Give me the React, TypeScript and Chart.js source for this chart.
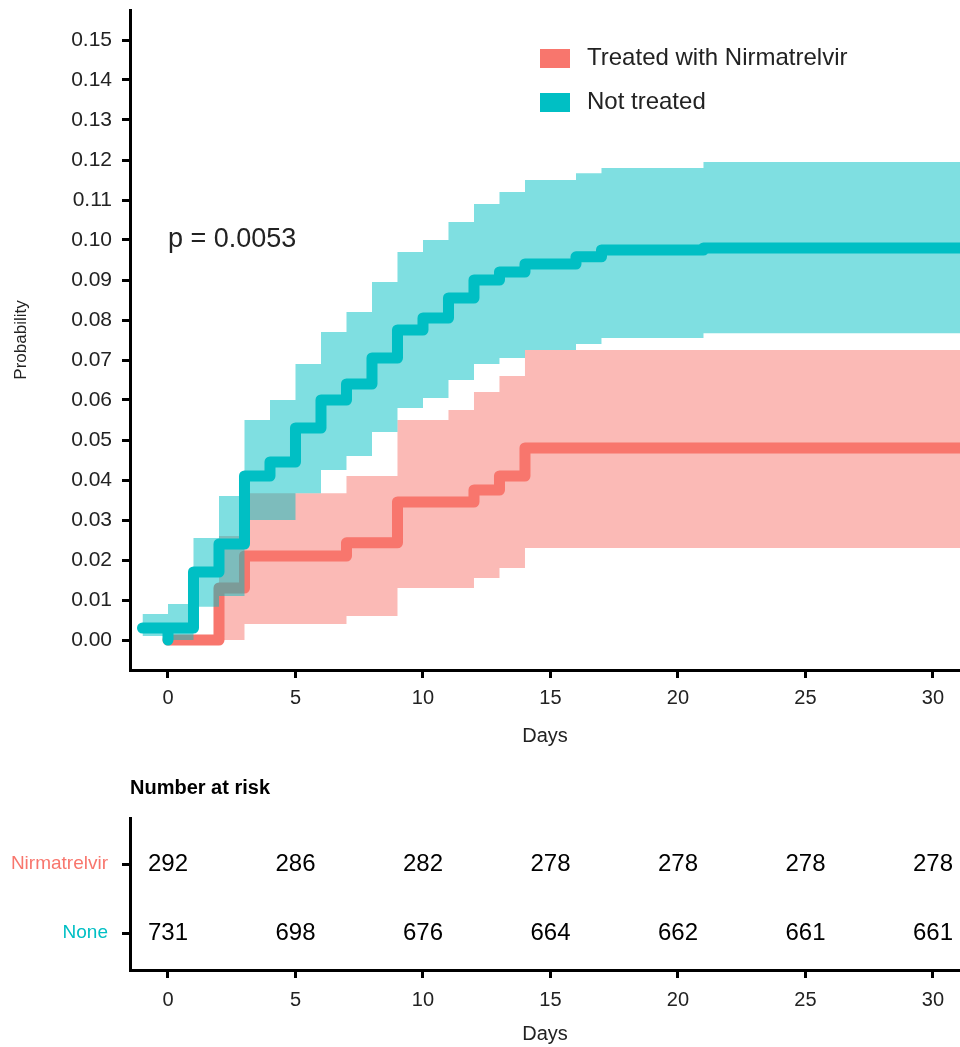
import React, { useEffect, useRef } from 'react';
import { Chart, registerables } from 'chart.js';

Chart.register(...registerables);

const FONT = "'Liberation Sans', Arial, sans-serif";
const NARROW = "'Liberation Sans Narrow', 'Liberation Sans', Arial, sans-serif";
const TEXT = '#222222';
const RED = '#F8766D';
const TEAL = '#00BFC4';
const RED_FILL = 'rgba(248,118,109,0.5)';
const TEAL_FILL = 'rgba(0,191,196,0.5)';

// axis ranges
const X_MIN = -1.49;
const X_MAX = 31.06;
const Y_MIN = -0.0075;
const Y_MAX = 0.1575;

const xTickValues = [0, 5, 10, 15, 20, 25, 30];
const yTickValues = [0.0, 0.01, 0.02, 0.03, 0.04, 0.05, 0.06, 0.07, 0.08, 0.09, 0.1, 0.11, 0.12, 0.13, 0.14, 0.15];

// Not treated: Kaplan-Meier cumulative probability (value holds from time[i] to time[i+1])
const notTreatedTimes = [-1, 0, 0, 1, 2, 3, 4, 5, 6, 7, 8, 9, 10, 11, 12, 13, 14, 16, 17, 21, 31.06];
const notTreatedProb = [0.003, 0, 0.003, 0.017, 0.024, 0.041, 0.0445, 0.053, 0.06, 0.064, 0.0705, 0.0775, 0.0805, 0.0855, 0.09, 0.092, 0.094, 0.0958, 0.0975, 0.098, 0.098];

// Not treated: confidence band
const notTreatedBandTimes = [-1, 0, 1, 2, 3, 4, 5, 6, 7, 8, 9, 10, 11, 12, 13, 14, 16, 17, 21, 31.06];
const notTreatedUpper = [0.0065, 0.009, 0.0255, 0.036, 0.055, 0.06, 0.069, 0.077, 0.082, 0.0895, 0.097, 0.1, 0.1045, 0.109, 0.112, 0.115, 0.1167, 0.118, 0.1195, 0.1195];
const notTreatedLower = [0.001, 0.0, 0.0083, 0.011, 0.03, 0.03, 0.0367, 0.0425, 0.046, 0.052, 0.058, 0.0605, 0.065, 0.069, 0.0705, 0.0725, 0.074, 0.0755, 0.0767, 0.0767];

// Treated with Nirmatrelvir: Kaplan-Meier cumulative probability
const treatedTimes = [0, 2, 3, 7, 9, 12, 13, 14, 31.06];
const treatedProb = [0, 0.013, 0.021, 0.0243, 0.0345, 0.0375, 0.041, 0.048, 0.048];

// Treated: confidence band
const treatedBandTimes = [0, 2, 3, 7, 9, 11, 12, 13, 14, 31.06];
const treatedUpper = [0, 0.026, 0.0367, 0.041, 0.055, 0.0575, 0.062, 0.066, 0.0725, 0.0725];
const treatedLower = [0, 0, 0.004, 0.006, 0.013, 0.013, 0.0155, 0.018, 0.023, 0.023];

const pValueText = 'p = 0.0053';
const pValueAt = [0, 0.1];

const legendLabels = ['Treated with Nirmatrelvir', 'Not treated'];

// Number at risk table
const riskDays = [0, 5, 10, 15, 20, 25, 30];
const riskGroups = ['Nirmatrelvir', 'None'];
const riskRows = [1, 0];
const nirmatrelvirAtRisk = [292, 286, 282, 278, 278, 278, 278];
const noneAtRisk = [731, 698, 676, 664, 662, 661, 661];

const pts = (times: number[], vals: number[]) => times.map((t, i) => ({ x: t, y: vals[i] }));

const bandStyle = {
  borderWidth: 0,
  borderColor: 'rgba(0,0,0,0)',
  pointRadius: 0,
  stepped: true,
};

const pValuePlugin = {
  id: 'pValue',
  afterDatasetsDraw(chart: any) {
    const { ctx, scales } = chart;
    ctx.save();
    ctx.font = `27px ${FONT}`;
    ctx.fillStyle = TEXT;
    ctx.textAlign = 'left';
    ctx.textBaseline = 'middle';
    ctx.fillText(pValueText, scales.x.getPixelForValue(pValueAt[0]), scales.y.getPixelForValue(pValueAt[1]));
    ctx.restore();
  },
};

const customLegend = {
  id: 'customLegend',
  afterDraw(chart: any) {
    const { ctx } = chart;
    const items = legendLabels.map((lab) => chart.data.datasets.find((d: any) => d.label === lab));
    ctx.save();
    items.forEach((ds: any, i: number) => {
      const top = 49 + i * 44;
      ctx.fillStyle = ds.borderColor;
      ctx.fillRect(540, top, 30, 19);
      ctx.font = `24px ${FONT}`;
      ctx.fillStyle = TEXT;
      ctx.textAlign = 'left';
      ctx.textBaseline = 'middle';
      ctx.fillText(ds.label, 587, top + 9.5);
    });
    ctx.restore();
  },
};

const riskPlugin = {
  id: 'riskText',
  afterDatasetsDraw(chart: any) {
    const { ctx } = chart;
    ctx.save();
    ctx.font = `bold 20px ${NARROW}`;
    ctx.fillStyle = '#000';
    ctx.textAlign = 'left';
    ctx.textBaseline = 'middle';
    ctx.fillText('Number at risk', 130, 28);
    ctx.font = `24px ${NARROW}`;
    ctx.textAlign = 'center';
    chart.data.datasets.forEach((ds: any, i: number) => {
      const meta = chart.getDatasetMeta(i);
      meta.data.forEach((el: any, j: number) => {
        ctx.fillText(String(ds.counts[j]), el.x, el.y);
      });
    });
    ctx.restore();
  },
};

const axisCommon = {
  border: { display: true, color: '#000', width: 3 },
  grid: { display: true, drawOnChartArea: false, drawTicks: true, tickLength: 8, tickWidth: 3, tickColor: '#000' },
};

export default function App() {
  const mainRef = useRef<HTMLCanvasElement>(null);
  const riskRef = useRef<HTMLCanvasElement>(null);

  useEffect(() => {
    const main = new Chart(mainRef.current as HTMLCanvasElement, {
      type: 'line',
      data: {
        datasets: [
          {
            label: 'Not treated',
            data: pts(notTreatedTimes, notTreatedProb),
            borderColor: TEAL,
            backgroundColor: TEAL,
            borderWidth: 11,
            borderCapStyle: 'round',
            borderJoinStyle: 'round',
            pointRadius: 0,
            stepped: true,
            fill: false,
          },
          { ...bandStyle, data: pts(notTreatedBandTimes, notTreatedUpper), backgroundColor: TEAL_FILL, fill: { target: 2 } },
          { ...bandStyle, data: pts(notTreatedBandTimes, notTreatedLower), fill: false },
          {
            label: 'Treated with Nirmatrelvir',
            data: pts(treatedTimes, treatedProb),
            borderColor: RED,
            backgroundColor: RED,
            borderWidth: 11,
            borderCapStyle: 'round',
            borderJoinStyle: 'round',
            pointRadius: 0,
            stepped: true,
            fill: false,
          },
          { ...bandStyle, data: pts(treatedBandTimes, treatedUpper), backgroundColor: RED_FILL, fill: { target: 5 } },
          { ...bandStyle, data: pts(treatedBandTimes, treatedLower), fill: false },
        ] as any,
      },
      options: {
        responsive: false,
        animation: false,
        devicePixelRatio: 1,
        layout: { padding: { left: 0, right: 0, top: 10, bottom: 0 } },
        plugins: { legend: { display: false }, tooltip: { enabled: false } },
        scales: {
          x: {
            type: 'linear',
            min: X_MIN,
            max: X_MAX,
            ...axisCommon,
            afterBuildTicks: (s: any) => { s.ticks = xTickValues.map((v) => ({ value: v })); },
            afterFit: (s: any) => { s.height = 90; s.paddingLeft = 0; s.paddingRight = 0; },
            ticks: { font: { family: NARROW, size: 20 }, color: TEXT, padding: 8, maxRotation: 0, callback: (v: any) => String(v) },
            title: { display: true, text: 'Days', font: { family: NARROW, size: 20 }, color: TEXT, padding: { top: 0, bottom: 12 } },
          },
          y: {
            type: 'linear',
            min: Y_MIN,
            max: Y_MAX,
            ...axisCommon,
            afterBuildTicks: (s: any) => { s.ticks = yTickValues.map((v) => ({ value: v })); },
            afterFit: (s: any) => { s.width = 130; s.paddingTop = 0; s.paddingBottom = 0; },
            ticks: { font: { family: FONT, size: 21 }, color: TEXT, padding: 10, callback: (v: any) => Number(v).toFixed(2) },
            title: { display: true, text: 'Probability', font: { family: NARROW, size: 17 }, color: TEXT, padding: { top: 11, bottom: 0 } },
          },
        },
      } as any,
      plugins: [pValuePlugin, customLegend],
    });

    const risk = new Chart(riskRef.current as HTMLCanvasElement, {
      type: 'scatter',
      data: {
        datasets: [
          { label: riskGroups[0], data: riskDays.map((d) => ({ x: d, y: riskRows[0] })), counts: nirmatrelvirAtRisk, pointRadius: 0 },
          { label: riskGroups[1], data: riskDays.map((d) => ({ x: d, y: riskRows[1] })), counts: noneAtRisk, pointRadius: 0 },
        ] as any,
      },
      options: {
        responsive: false,
        animation: false,
        devicePixelRatio: 1,
        layout: { padding: { left: 0, right: 0, top: 58, bottom: 0 } },
        plugins: { legend: { display: false }, tooltip: { enabled: false } },
        scales: {
          x: {
            type: 'linear',
            min: X_MIN,
            max: X_MAX,
            ...axisCommon,
            afterBuildTicks: (s: any) => { s.ticks = xTickValues.map((v) => ({ value: v })); },
            afterFit: (s: any) => { s.height = 77; s.paddingLeft = 0; s.paddingRight = 0; },
            ticks: { font: { family: NARROW, size: 20 }, color: TEXT, padding: 10, maxRotation: 0, callback: (v: any) => String(v) },
            title: { display: true, text: 'Days', font: { family: NARROW, size: 20 }, color: TEXT, padding: { top: 0, bottom: 1 } },
          },
          y: {
            type: 'linear',
            min: -0.536,
            max: 1.667,
            ...axisCommon,
            afterBuildTicks: (s: any) => { s.ticks = riskRows.map((v) => ({ value: v })); },
            afterFit: (s: any) => { s.width = 130; s.paddingTop = 0; s.paddingBottom = 0; },
            ticks: {
              font: { family: NARROW, size: 19 },
              padding: 14,
              color: (c: any) => (c.tick && c.tick.value === riskRows[0] ? RED : TEAL),
              callback: (v: any) => riskGroups[riskRows.indexOf(Number(v))],
            },
          },
        },
      } as any,
      plugins: [riskPlugin],
    });

    return () => {
      main.destroy();
      risk.destroy();
    };
  }, []);

  return (
    <div style={{ position: 'absolute', left: 0, top: 0, width: 960, height: 1047, background: '#fff', overflow: 'hidden' }}>
      <canvas ref={mainRef} width={960} height={760} style={{ display: 'block' }} />
      <canvas ref={riskRef} width={960} height={287} style={{ display: 'block' }} />
    </div>
  );
}
